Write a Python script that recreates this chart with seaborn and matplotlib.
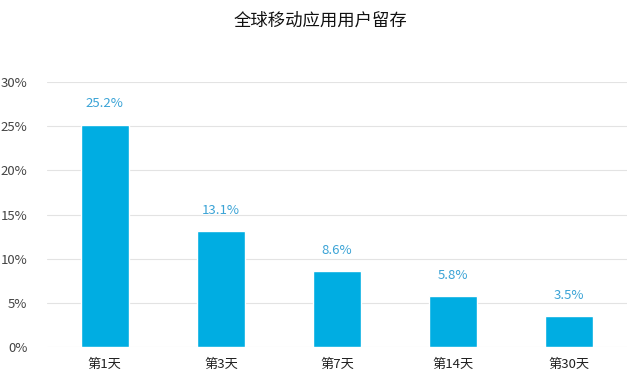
import matplotlib
matplotlib.use('Agg')
import matplotlib.pyplot as plt
import seaborn as sns
import pandas as pd

# chart data
days = ['第1天', '第3天', '第7天', '第14天', '第30天']
retention = [25.2, 13.1, 8.6, 5.8, 3.5]
y_ticks = [0, 5, 10, 15, 20, 25, 30]

sns.set_theme(style='white')
plt.rcParams['font.family'] = ['Noto Sans CJK SC', 'DejaVu Sans']

df = pd.DataFrame({'day': days, 'value': retention})

fig = plt.figure(figsize=(6.4, 3.84), dpi=100)
ax = fig.add_axes([0.073, 0.096, 0.907, 0.69])

sns.barplot(data=df, x='day', y='value', color='#00ade2', saturation=1,
            width=0.41, ax=ax, zorder=3)

# value labels above bars
for i, v in enumerate(retention):
    ax.text(i, v + 1.6, '{:.1f}%'.format(v), ha='center', va='bottom',
            fontsize=9.5, color='#3aa3d6')

ax.set_ylim(0, 30)
ax.set_xlim(-0.5, 4.5)
ax.set_yticks(y_ticks)
ax.set_yticklabels(['{}%'.format(t) for t in y_ticks], fontsize=9.5, color='#444444')
ax.tick_params(axis='x', labelsize=9.5, colors='#222222', length=0, pad=8)
for lbl in ax.get_xticklabels():
    lbl.set_fontweight('medium')
ax.tick_params(axis='y', length=0, pad=14)
ax.set_xlabel('')
ax.set_ylabel('')
ax.grid(axis='y', color='#e3e3e3', linewidth=0.8, zorder=0)
sns.despine(ax=ax, left=True, bottom=True, top=True, right=True)

fig.text(0.5, 0.945, '全球移动应用用户留存', ha='center', va='center',
         fontsize=12.5, fontweight='medium', color='#111111')

fig.savefig('out.png', dpi=100)
plt.close(fig)
